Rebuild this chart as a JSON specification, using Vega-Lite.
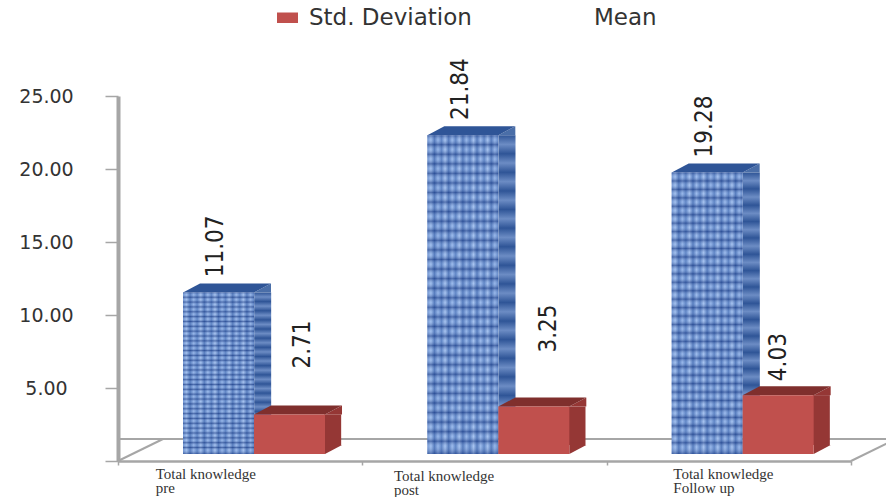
{
  "$schema": "https://vega.github.io/schema/vega-lite/v6.json",
  "width": 733,
  "height": 365,
  "padding": {"left": 118, "top": 96, "right": 35, "bottom": 36},
  "autosize": {"type": "none"},
  "background": "white",
  "view": {"stroke": null},
  "config": {"font": "DejaVu Sans"},
  "layer": [
    {
      "data": {"values": [{}]},
      "mark": {"type": "rule", "color": "#a6a6a6", "strokeWidth": 2, "xOffset": 45, "x2Offset": 35},
      "encoding": {
        "y": {
          "datum": 1.5,
          "type": "quantitative",
          "title": null,
          "scale": {"domain": [0, 25], "nice": false},
          "axis": {
            "values": [0, 5, 10, 15, 20, 25],
            "grid": false,
            "domainColor": "#a6a6a6",
            "domainWidth": 4,
            "tickColor": "#a6a6a6",
            "tickWidth": 1.5,
            "tickSize": 13,
            "labelFontSize": 19,
            "labelColor": "#333333",
            "labelAlign": "center",
            "labelPadding": 59,
            "labelExpr": "datum.value == 0 ? '' : format(datum.value, '.2f')"
          }
        }
      }
    },
    {
      "data": {"values": [{"group": "Total knowledge pre"}]},
      "mark": {"type": "point", "shape": "M0 0L45 -22", "size": 4, "filled": false, "color": "#a6a6a6", "strokeWidth": 2, "opacity": 1},
      "encoding": {
        "x": {
          "field": "group",
          "type": "nominal",
          "bandPosition": 0,
          "title": null,
          "scale": {"domain": ["Total knowledge pre", "Total knowledge post", "Total knowledge Follow up"], "paddingInner": 0, "paddingOuter": 0},
          "axis": {
            "domainColor": "#a6a6a6",
            "domainWidth": 2.5,
            "tickColor": "#a6a6a6",
            "tickWidth": 1.5,
            "tickSize": 4,
            "tickBand": "extent",
            "labelAngle": 0,
            "labelAlign": "left",
            "labelBaseline": "top",
            "labelFont": "Liberation Serif",
            "labelFontSize": 15,
            "labelColor": "#333333",
            "labelLineHeight": 14,
            "labelPadding": {"condition": {"test": "datum.value == 'Total knowledge post'", "value": 3}, "value": 1},
            "labelOffset": {
              "condition": [
                {"test": "datum.value == 'Total knowledge pre'", "value": -85},
                {"test": "datum.value == 'Total knowledge post'", "value": -91}
              ],
              "value": -56
            },
            "labelLimit": 0,
            "labelExpr": "datum.label ? ['Total knowledge', replace(datum.label, 'Total knowledge ', '')] : ''"
          }
        },
        "y": {"datum": 0, "type": "quantitative", "title": null}
      }
    },
    {
      "data": {"values": [{"group": "Total knowledge Follow up"}]},
      "mark": {"type": "point", "shape": "M0 0L45 -22", "size": 4, "filled": false, "color": "#a6a6a6", "strokeWidth": 2, "opacity": 1},
      "encoding": {
        "x": {"field": "group", "type": "nominal", "bandPosition": 1, "title": null},
        "y": {"datum": 0, "type": "quantitative", "title": null}
      }
    },
    {
      "data": {
        "values": [
          {"group": "Total knowledge pre", "series": "Mean", "value": 11.07},
          {"group": "Total knowledge pre", "series": "Std. Deviation", "value": 2.71},
          {"group": "Total knowledge post", "series": "Mean", "value": 21.84},
          {"group": "Total knowledge post", "series": "Std. Deviation", "value": 3.25},
          {"group": "Total knowledge Follow up", "series": "Mean", "value": 19.28},
          {"group": "Total knowledge Follow up", "series": "Std. Deviation", "value": 4.03}
        ]
      },
      "encoding": {
        "x": {"field": "group", "type": "nominal", "title": null},
        "xOffset": {
          "field": "series",
          "type": "nominal",
          "scale": {"domain": ["Mean", "Std. Deviation"], "range": [65, 207], "paddingInner": 0, "paddingOuter": 0}
        },
        "y": {"field": "value", "type": "quantitative", "title": null, "stack": null}
      },
      "layer": [
        {
          "transform": [{"filter": "datum.series == 'Mean'"}],
          "layer": [
            {
              "mark": {"type": "bar", "width": 17, "xOffset": 22.5, "yOffset": -7, "y2Offset": -16, "fill": {
                "gradient": "linear", "x1": 0, "x2": 0, "y1": 0, "y2": 1,
                "stops": [
                  {"offset": 0, "color": "#2f5597"}, {"offset": 0.03, "color": "#6c8cc4"}, {"offset": 0.06, "color": "#2f5597"},
                  {"offset": 0.09, "color": "#6c8cc4"}, {"offset": 0.12, "color": "#2f5597"}, {"offset": 0.15, "color": "#6c8cc4"},
                  {"offset": 0.18, "color": "#2f5597"}, {"offset": 0.21, "color": "#6c8cc4"}, {"offset": 0.24, "color": "#2f5597"},
                  {"offset": 0.27, "color": "#6c8cc4"}, {"offset": 0.3, "color": "#2f5597"}, {"offset": 0.33, "color": "#6c8cc4"},
                  {"offset": 0.36, "color": "#2f5597"}, {"offset": 0.39, "color": "#6c8cc4"}, {"offset": 0.42, "color": "#2f5597"},
                  {"offset": 0.45, "color": "#6c8cc4"}, {"offset": 0.48, "color": "#2f5597"}, {"offset": 0.51, "color": "#6c8cc4"},
                  {"offset": 0.54, "color": "#2f5597"}, {"offset": 0.57, "color": "#6c8cc4"}, {"offset": 0.6, "color": "#2f5597"},
                  {"offset": 0.63, "color": "#6c8cc4"}, {"offset": 0.66, "color": "#2f5597"}, {"offset": 0.69, "color": "#6c8cc4"},
                  {"offset": 0.72, "color": "#2f5597"}, {"offset": 0.75, "color": "#6c8cc4"}, {"offset": 0.78, "color": "#2f5597"},
                  {"offset": 0.81, "color": "#6c8cc4"}, {"offset": 0.84, "color": "#2f5597"}, {"offset": 0.87, "color": "#6c8cc4"},
                  {"offset": 0.9, "color": "#2f5597"}, {"offset": 0.93, "color": "#6c8cc4"}, {"offset": 0.96, "color": "#2f5597"},
                  {"offset": 1, "color": "#6c8cc4"}
                ]
              }},
              "encoding": {"xOffset": null, "y2": {"datum": 0}}
            },
            {
              "mark": {"type": "point", "shape": "M35.5 0L52.5 -9L52.5 0Z", "size": 4, "filled": true, "color": "#4a6ea8", "opacity": 1, "yOffset": -7}
            },
            {
              "mark": {"type": "point", "shape": "M35.5 0L52.5 -9L35.5 -9Z", "size": 4, "filled": true, "color": "#4a6ea8", "opacity": 1, "yOffset": -7},
              "encoding": {"y": {"datum": 0, "type": "quantitative", "title": null}}
            },
            {
              "mark": {"type": "point", "shape": "M-35.5 0L35.5 0L52.5 -9L-18.5 -9Z", "size": 4, "filled": true, "color": "#2f5597", "opacity": 1, "yOffset": -7}
            },
            {
              "mark": {"type": "bar", "yOffset": -7, "y2Offset": -7, "fill": {
                "gradient": "linear", "x1": 0, "x2": 1, "y1": 0, "y2": 0,
                "stops": [
                  {"offset": 0, "color": "#5f86c8"}, {"offset": 0.05, "color": "#9dbcec"}, {"offset": 0.1, "color": "#3e67b0"},
                  {"offset": 0.15, "color": "#8fb0e6"}, {"offset": 0.2, "color": "#4a73ba"}, {"offset": 0.25, "color": "#a3c0ee"},
                  {"offset": 0.3, "color": "#3e67b0"}, {"offset": 0.35, "color": "#96b6ea"}, {"offset": 0.4, "color": "#4a73ba"},
                  {"offset": 0.45, "color": "#a3c0ee"}, {"offset": 0.5, "color": "#3e67b0"}, {"offset": 0.55, "color": "#8fb0e6"},
                  {"offset": 0.6, "color": "#4a73ba"}, {"offset": 0.65, "color": "#a3c0ee"}, {"offset": 0.7, "color": "#3e67b0"},
                  {"offset": 0.75, "color": "#96b6ea"}, {"offset": 0.8, "color": "#4a73ba"}, {"offset": 0.85, "color": "#a3c0ee"},
                  {"offset": 0.9, "color": "#3e67b0"}, {"offset": 0.95, "color": "#8fb0e6"}, {"offset": 1, "color": "#4a73ba"}
                ]
              }},
              "encoding": {"y2": {"datum": 0}}
            },
            {
              "mark": {"type": "bar", "yOffset": -7, "y2Offset": -7, "fill": {
                "gradient": "linear", "x1": 0, "x2": 0, "y1": 0, "y2": 1,
                "stops": [
                  {"offset": 0, "color": "rgba(30,60,130,0.55)"}, {"offset": 0.015, "color": "rgba(190,215,250,0.2)"},
                  {"offset": 0.03, "color": "rgba(30,60,130,0.55)"}, {"offset": 0.045, "color": "rgba(190,215,250,0.2)"},
                  {"offset": 0.06, "color": "rgba(30,60,130,0.55)"}, {"offset": 0.075, "color": "rgba(190,215,250,0.2)"},
                  {"offset": 0.09, "color": "rgba(30,60,130,0.55)"}, {"offset": 0.105, "color": "rgba(190,215,250,0.2)"},
                  {"offset": 0.12, "color": "rgba(30,60,130,0.55)"}, {"offset": 0.135, "color": "rgba(190,215,250,0.2)"},
                  {"offset": 0.15, "color": "rgba(30,60,130,0.55)"}, {"offset": 0.165, "color": "rgba(190,215,250,0.2)"},
                  {"offset": 0.18, "color": "rgba(30,60,130,0.55)"}, {"offset": 0.195, "color": "rgba(190,215,250,0.2)"},
                  {"offset": 0.21, "color": "rgba(30,60,130,0.55)"}, {"offset": 0.225, "color": "rgba(190,215,250,0.2)"},
                  {"offset": 0.24, "color": "rgba(30,60,130,0.55)"}, {"offset": 0.255, "color": "rgba(190,215,250,0.2)"},
                  {"offset": 0.27, "color": "rgba(30,60,130,0.55)"}, {"offset": 0.285, "color": "rgba(190,215,250,0.2)"},
                  {"offset": 0.3, "color": "rgba(30,60,130,0.55)"}, {"offset": 0.315, "color": "rgba(190,215,250,0.2)"},
                  {"offset": 0.33, "color": "rgba(30,60,130,0.55)"}, {"offset": 0.345, "color": "rgba(190,215,250,0.2)"},
                  {"offset": 0.36, "color": "rgba(30,60,130,0.55)"}, {"offset": 0.375, "color": "rgba(190,215,250,0.2)"},
                  {"offset": 0.39, "color": "rgba(30,60,130,0.55)"}, {"offset": 0.405, "color": "rgba(190,215,250,0.2)"},
                  {"offset": 0.42, "color": "rgba(30,60,130,0.55)"}, {"offset": 0.435, "color": "rgba(190,215,250,0.2)"},
                  {"offset": 0.45, "color": "rgba(30,60,130,0.55)"}, {"offset": 0.465, "color": "rgba(190,215,250,0.2)"},
                  {"offset": 0.48, "color": "rgba(30,60,130,0.55)"}, {"offset": 0.495, "color": "rgba(190,215,250,0.2)"},
                  {"offset": 0.51, "color": "rgba(30,60,130,0.55)"}, {"offset": 0.525, "color": "rgba(190,215,250,0.2)"},
                  {"offset": 0.54, "color": "rgba(30,60,130,0.55)"}, {"offset": 0.555, "color": "rgba(190,215,250,0.2)"},
                  {"offset": 0.57, "color": "rgba(30,60,130,0.55)"}, {"offset": 0.585, "color": "rgba(190,215,250,0.2)"},
                  {"offset": 0.6, "color": "rgba(30,60,130,0.55)"}, {"offset": 0.615, "color": "rgba(190,215,250,0.2)"},
                  {"offset": 0.63, "color": "rgba(30,60,130,0.55)"}, {"offset": 0.645, "color": "rgba(190,215,250,0.2)"},
                  {"offset": 0.66, "color": "rgba(30,60,130,0.55)"}, {"offset": 0.675, "color": "rgba(190,215,250,0.2)"},
                  {"offset": 0.69, "color": "rgba(30,60,130,0.55)"}, {"offset": 0.705, "color": "rgba(190,215,250,0.2)"},
                  {"offset": 0.72, "color": "rgba(30,60,130,0.55)"}, {"offset": 0.735, "color": "rgba(190,215,250,0.2)"},
                  {"offset": 0.75, "color": "rgba(30,60,130,0.55)"}, {"offset": 0.765, "color": "rgba(190,215,250,0.2)"},
                  {"offset": 0.78, "color": "rgba(30,60,130,0.55)"}, {"offset": 0.795, "color": "rgba(190,215,250,0.2)"},
                  {"offset": 0.81, "color": "rgba(30,60,130,0.55)"}, {"offset": 0.825, "color": "rgba(190,215,250,0.2)"},
                  {"offset": 0.84, "color": "rgba(30,60,130,0.55)"}, {"offset": 0.855, "color": "rgba(190,215,250,0.2)"},
                  {"offset": 0.87, "color": "rgba(30,60,130,0.55)"}, {"offset": 0.885, "color": "rgba(190,215,250,0.2)"},
                  {"offset": 0.9, "color": "rgba(30,60,130,0.55)"}, {"offset": 0.915, "color": "rgba(190,215,250,0.2)"},
                  {"offset": 0.93, "color": "rgba(30,60,130,0.55)"}, {"offset": 0.945, "color": "rgba(190,215,250,0.2)"},
                  {"offset": 0.96, "color": "rgba(30,60,130,0.55)"}, {"offset": 0.975, "color": "rgba(190,215,250,0.2)"},
                  {"offset": 1, "color": "rgba(30,60,130,0.55)"}
                ]
              }},
              "encoding": {"y2": {"datum": 0}}
            },
            {
              "mark": {"type": "text", "font": "DejaVu Sans Condensed, Liberation Sans", "fontSize": 24, "angle": 270, "color": "#222222", "align": "center", "baseline": "middle", "xOffset": -24, "yOffset": -53},
              "encoding": {"xOffset": null, "text": {"field": "value", "type": "quantitative", "format": ".2f"}}
            }
          ]
        },
        {
          "transform": [{"filter": "datum.series == 'Std. Deviation'"}],
          "layer": [
            {
              "mark": {"type": "bar", "width": 17, "xOffset": 92.5, "yOffset": -7, "y2Offset": -16, "fill": "#953735"},
              "encoding": {"xOffset": null, "y2": {"datum": 0}}
            },
            {
              "mark": {"type": "point", "shape": "M35.5 0L52.5 -9L52.5 0Z", "size": 4, "filled": true, "color": "#953735", "opacity": 1, "yOffset": -7}
            },
            {
              "mark": {"type": "point", "shape": "M35.5 0L52.5 -9L35.5 -9Z", "size": 4, "filled": true, "color": "#953735", "opacity": 1, "yOffset": -7},
              "encoding": {"y": {"datum": 0, "type": "quantitative", "title": null}}
            },
            {
              "mark": {"type": "point", "shape": "M-35.5 0L35.5 0L52.5 -9L-18.5 -9Z", "size": 4, "filled": true, "color": "#7f2f2d", "opacity": 1, "yOffset": -7}
            },
            {
              "mark": {"type": "bar", "yOffset": -7, "y2Offset": -7},
              "encoding": {
                "y2": {"datum": 0},
                "color": {
                  "field": "series",
                  "type": "nominal",
                  "scale": {"domain": ["Std. Deviation", "Mean"], "range": ["#c0504d", "transparent"]},
                  "legend": {
                    "title": null,
                    "orient": "none",
                    "direction": "horizontal",
                    "legendX": 158,
                    "legendY": -90,
                    "columns": 2,
                    "columnPadding": 89,
                    "symbolType": "M-1,-0.5H1V0.5H-1Z",
                    "symbolSize": 441,
                    "symbolStrokeWidth": 0,
                    "symbolOpacity": 1,
                    "labelFontSize": 23,
                    "labelColor": "#333333",
                    "labelOffset": 10,
                    "labelLimit": 0
                  }
                }
              }
            },
            {
              "transform": [{"filter": "datum.group == 'Total knowledge pre'"}],
              "mark": {"type": "text", "font": "DejaVu Sans Condensed, Liberation Sans", "fontSize": 24, "angle": 270, "color": "#222222", "align": "center", "baseline": "middle", "xOffset": 63, "yOffset": -77},
              "encoding": {"xOffset": null, "text": {"field": "value", "type": "quantitative", "format": ".2f"}}
            },
            {
              "transform": [{"filter": "datum.group == 'Total knowledge post'"}],
              "mark": {"type": "text", "font": "DejaVu Sans Condensed, Liberation Sans", "fontSize": 24, "angle": 270, "color": "#222222", "align": "center", "baseline": "middle", "xOffset": 64, "yOffset": -85},
              "encoding": {"xOffset": null, "text": {"field": "value", "type": "quantitative", "format": ".2f"}}
            },
            {
              "transform": [{"filter": "datum.group == 'Total knowledge Follow up'"}],
              "mark": {"type": "text", "font": "DejaVu Sans Condensed, Liberation Sans", "fontSize": 24, "angle": 270, "color": "#222222", "align": "center", "baseline": "middle", "xOffset": 50, "yOffset": -45},
              "encoding": {"xOffset": null, "text": {"field": "value", "type": "quantitative", "format": ".2f"}}
            }
          ]
        }
      ]
    }
  ]
}
